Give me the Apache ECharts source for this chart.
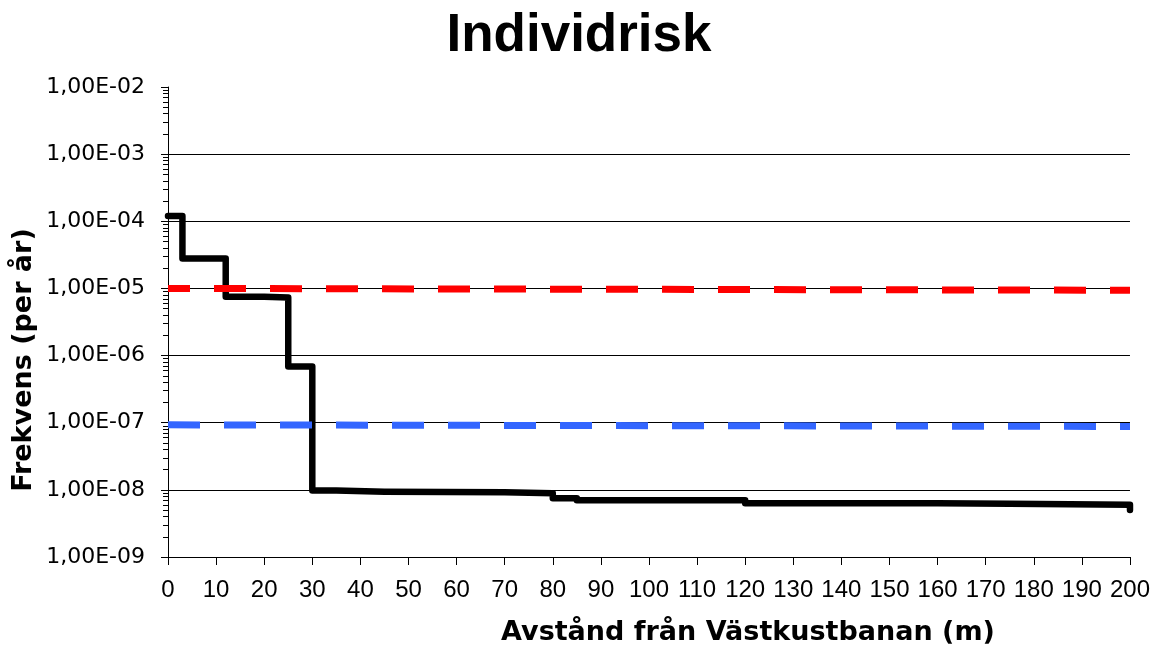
<!DOCTYPE html>
<html>
<head>
<meta charset="utf-8">
<script src="https://cdn.jsdelivr.net/npm/echarts@6/dist/echarts.min.js"></script>
<style>
html,body{margin:0;padding:0;background:#fff;}
#chart{width:1153px;height:648px;}
</style>
</head>
<body>
<div id="chart"></div>
<script>
// ---- data ----
const titleText = 'Individrisk';
const xAxisName = 'Avstånd från Västkustbanan (m)';
const yAxisName = 'Frekvens (per år)';

// black step curve: value holds from x[i] to x[i+1]
const riskX = [0, 3, 12, 20, 25, 30, 35, 45, 70, 80, 85, 120, 160, 175, 200];
const riskY = [1.2e-4, 2.8e-5, 7.5e-6, 7.3e-6, 6.9e-7, 9.8e-9, 9.4e-9, 9.2e-9, 8.9e-9, 7.5e-9, 7.0e-9, 6.3e-9, 6.2e-9, 6.0e-9, 5.0e-9];

// criteria lines
const upperX = [0, 200];
const upperY = [1.0e-5, 9.4e-6];
const lowerX = [0, 200];
const lowerY = [9.3e-8, 8.8e-8];

// axes
const xMin = 0, xMax = 200, xInterval = 10;
const yMin = 1e-9, yMax = 1e-2;

// ---- build ----
const pairs = (xs, ys) => xs.map((x, i) => [x, ys[i]]);
const minorTickVals = [];
for (let e = -9; e < -2; e++) {
  for (let k = 2; k <= 9; k++) minorTickVals.push(e + Math.log10(k));
}
const fmtY = v => {
  const e = Math.round(Math.log10(v));
  const s = e < 0 ? '-' : '+';
  return '1,00E' + s + String(Math.abs(e)).padStart(2, '0');
};
// inner gridlines (1e-8 .. 1e-3) black; anything drawn at the top edge hidden
const innerLines = Math.round(Math.log10(yMax / yMin)) - 1;
const splitColors = [];
for (let i = 0; i < innerLines; i++) splitColors.push('#000');
splitColors.push('rgba(0,0,0,0)');

const chart = echarts.init(document.getElementById('chart'), null, {renderer: 'canvas'});
chart.setOption({
  animation: false,
  backgroundColor: '#ffffff',
  title: {
    text: titleText,
    left: 579,
    textAlign: 'center',
    top: 10,
    padding: 0,
    textStyle: {fontFamily: 'Liberation Sans', fontWeight: 'bold', fontSize: 53, color: '#000'}
  },
  grid: {left: 168, right: 23, top: 87, bottom: 91, containLabel: false},
  xAxis: {
    type: 'value',
    min: xMin, max: xMax, interval: xInterval,
    axisLine: {show: true, onZero: false, lineStyle: {color: '#000', width: 1}},
    axisTick: {show: true, length: 8, lineStyle: {color: '#000'}},
    axisLabel: {fontFamily: 'Liberation Sans', fontSize: 24, color: '#000', margin: 21, showMinLabel: true, showMaxLabel: true},
    splitLine: {show: false}
  },
  yAxis: [{
    type: 'log', logBase: 10,
    min: yMin, max: yMax,
    axisLine: {show: true, lineStyle: {color: '#000', width: 1}},
    axisTick: {show: true, length: 7, lineStyle: {color: '#000'}},
    axisLabel: {fontFamily: 'DejaVu Sans', fontSize: 22, color: '#000', margin: 23, formatter: fmtY},
    splitLine: {show: true, showMinLine: false, showMaxLine: false, lineStyle: {color: splitColors, width: 1}}
  }, {
    type: 'value',
    min: -9, max: -2,
    position: 'left',
    axisLine: {show: false},
    axisLabel: {show: false},
    splitLine: {show: false},
    axisTick: {show: true, length: 5, customValues: minorTickVals, lineStyle: {color: '#000', width: 1}}
  }],
  graphic: [
    {type: 'text', x: 748, y: 633, silent: true,
     style: {text: xAxisName, textAlign: 'center', textVerticalAlign: 'middle', fill: '#000',
             font: 'bold 27px "DejaVu Sans"'}},
    {type: 'text', x: 24, y: 360, rotation: Math.PI / 2, silent: true,
     style: {text: yAxisName, textAlign: 'center', textVerticalAlign: 'middle', fill: '#000',
             font: 'bold 27px "DejaVu Sans"'}}
  ],
  series: [
    {
      name: 'Individrisk', type: 'line', step: 'end',
      data: pairs(riskX, riskY),
      showSymbol: false, symbol: 'none',
      lineStyle: {color: '#000', width: 6.5, cap: 'round', join: 'round'},
      z: 3
    },
    {
      name: 'Övre gräns', type: 'line',
      data: pairs(upperX, upperY),
      showSymbol: false, symbol: 'none',
      lineStyle: {color: '#ff0000', width: 7, type: [32, 24], dashOffset: 10, cap: 'butt'},
      z: 4
    },
    {
      name: 'Nedre gräns', type: 'line',
      data: pairs(lowerX, lowerY),
      showSymbol: false, symbol: 'none',
      lineStyle: {color: '#3366ff', width: 7, type: [32, 24], cap: 'butt'},
      z: 4
    }
  ]
});
</script>
</body>
</html>
